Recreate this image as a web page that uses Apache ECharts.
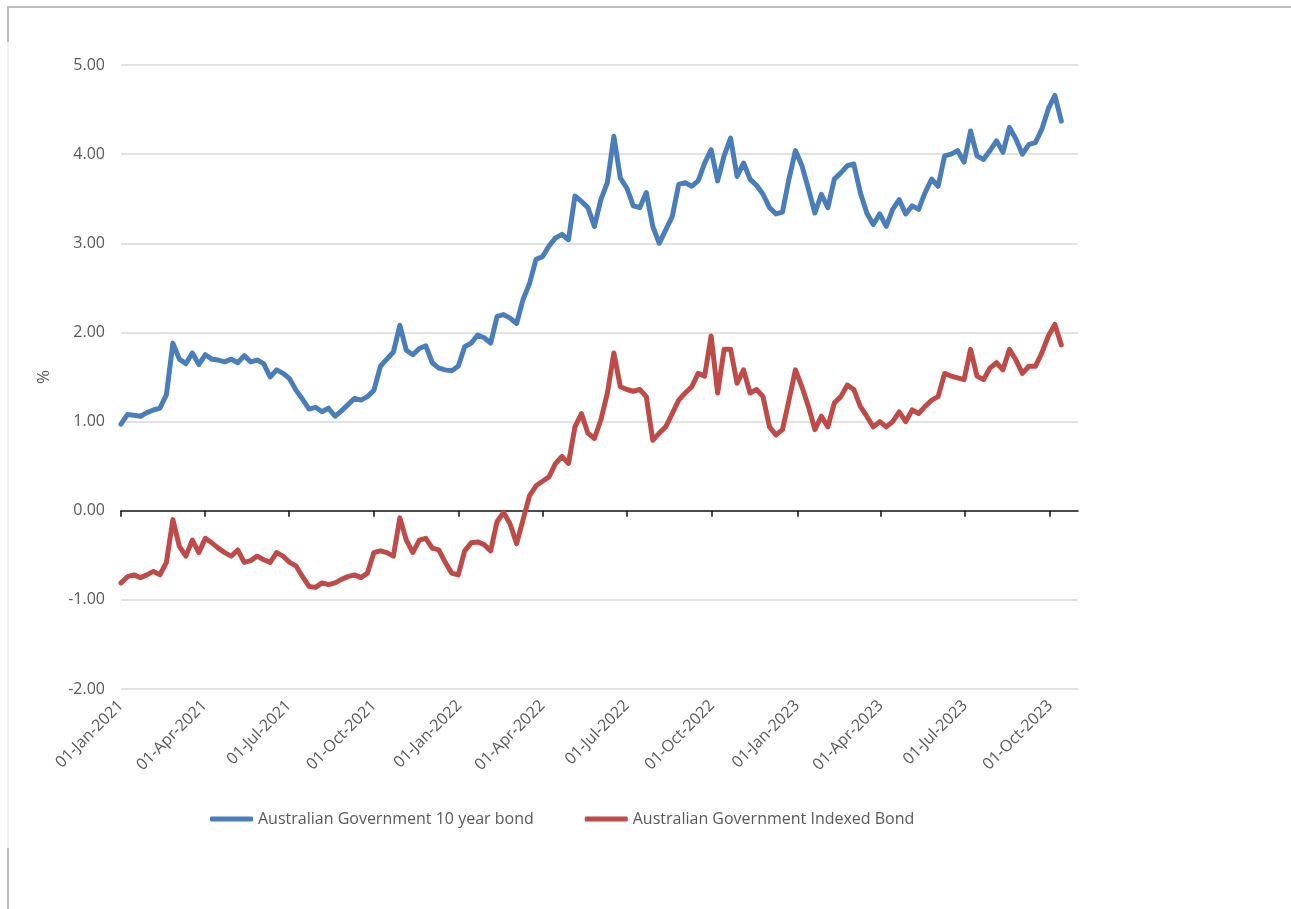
<!DOCTYPE html>
<html>
<head>
<meta charset="utf-8">
<script src="https://cdn.jsdelivr.net/npm/echarts@6/dist/echarts.min.js"></script>
<style>
  html, body { margin: 0; padding: 0; background: #ffffff; }
  #chart { width: 1291px; height: 909px; }
</style>
</head>
<body>
<div id="chart"></div>
<script>
// Weekly observation dates (Fridays)
const dates = [
  '2021-01-01','2021-01-08','2021-01-15','2021-01-22','2021-01-29',
  '2021-02-05','2021-02-12','2021-02-19','2021-02-26',
  '2021-03-05','2021-03-12','2021-03-19','2021-03-26',
  '2021-04-02','2021-04-09','2021-04-16','2021-04-23','2021-04-30',
  '2021-05-07','2021-05-14','2021-05-21','2021-05-28',
  '2021-06-04','2021-06-11','2021-06-18','2021-06-25',
  '2021-07-02','2021-07-09','2021-07-16','2021-07-23','2021-07-30',
  '2021-08-06','2021-08-13','2021-08-20','2021-08-27',
  '2021-09-03','2021-09-10','2021-09-17','2021-09-24',
  '2021-10-01','2021-10-08','2021-10-15','2021-10-22','2021-10-29',
  '2021-11-05','2021-11-12','2021-11-19','2021-11-26',
  '2021-12-03','2021-12-10','2021-12-17','2021-12-24','2021-12-31',
  '2022-01-07','2022-01-14','2022-01-21','2022-01-28',
  '2022-02-04','2022-02-11','2022-02-18','2022-02-25',
  '2022-03-04','2022-03-11','2022-03-18','2022-03-25',
  '2022-04-01','2022-04-08','2022-04-15','2022-04-22','2022-04-29',
  '2022-05-06','2022-05-13','2022-05-20','2022-05-27',
  '2022-06-03','2022-06-10','2022-06-17','2022-06-24',
  '2022-07-01','2022-07-08','2022-07-15','2022-07-22','2022-07-29',
  '2022-08-05','2022-08-12','2022-08-19','2022-08-26',
  '2022-09-02','2022-09-09','2022-09-16','2022-09-23','2022-09-30',
  '2022-10-07','2022-10-14','2022-10-21','2022-10-28',
  '2022-11-04','2022-11-11','2022-11-18','2022-11-25',
  '2022-12-02','2022-12-09','2022-12-16','2022-12-23','2022-12-30',
  '2023-01-06','2023-01-13','2023-01-20','2023-01-27',
  '2023-02-03','2023-02-10','2023-02-17','2023-02-24',
  '2023-03-03','2023-03-10','2023-03-17','2023-03-24','2023-03-31',
  '2023-04-07','2023-04-14','2023-04-21','2023-04-28',
  '2023-05-05','2023-05-12','2023-05-19','2023-05-26',
  '2023-06-02','2023-06-09','2023-06-16','2023-06-23','2023-06-30',
  '2023-07-07','2023-07-14','2023-07-21','2023-07-28',
  '2023-08-04','2023-08-11','2023-08-18','2023-08-25',
  '2023-09-01','2023-09-08','2023-09-15','2023-09-22','2023-09-29',
  '2023-10-06','2023-10-13'
];

// Australian Government 10 year bond yield, %
const tenYearBond = [
  0.97, 1.08, 1.07, 1.06, 1.10,
  1.13, 1.15, 1.30, 1.88,
  1.70, 1.65, 1.77, 1.64,
  1.75, 1.70, 1.69, 1.67, 1.70,
  1.66, 1.74, 1.67, 1.69,
  1.65, 1.50, 1.58, 1.54,
  1.48, 1.35, 1.25, 1.14, 1.16,
  1.11, 1.15, 1.06, 1.12,
  1.19, 1.26, 1.24, 1.28,
  1.35, 1.62, 1.70, 1.78, 2.08,
  1.80, 1.75, 1.82, 1.85,
  1.66, 1.60, 1.58, 1.57, 1.62,
  1.84, 1.88, 1.97, 1.94,
  1.88, 2.18, 2.20, 2.16,
  2.10, 2.37, 2.55, 2.82,
  2.85, 2.97, 3.06, 3.10, 3.04,
  3.53, 3.47, 3.40, 3.19,
  3.49, 3.68, 4.20, 3.73,
  3.62, 3.42, 3.40, 3.57, 3.19,
  3.00, 3.15, 3.30, 3.66,
  3.68, 3.64, 3.70, 3.90, 4.05,
  3.70, 3.98, 4.18, 3.75,
  3.90, 3.72, 3.65, 3.55,
  3.40, 3.33, 3.35, 3.72, 4.04,
  3.87, 3.61, 3.34, 3.55,
  3.40, 3.72, 3.79, 3.87,
  3.89, 3.57, 3.34, 3.21, 3.33,
  3.19, 3.38, 3.49, 3.33,
  3.42, 3.38, 3.57, 3.72,
  3.64, 3.98, 4.00, 4.04, 3.91,
  4.26, 3.98, 3.94, 4.04,
  4.15, 4.02, 4.30, 4.17,
  4.00, 4.11, 4.13, 4.28, 4.51,
  4.66, 4.37
];

// Australian Government Indexed Bond (real) yield, %
const indexedBond = [
  -0.81, -0.74, -0.72, -0.75, -0.72,
  -0.68, -0.72, -0.58, -0.10,
  -0.40, -0.51, -0.33, -0.47,
  -0.31, -0.36, -0.42, -0.47, -0.51,
  -0.44, -0.58, -0.56, -0.51,
  -0.55, -0.58, -0.47, -0.51,
  -0.58, -0.62, -0.74, -0.85, -0.86,
  -0.81, -0.83, -0.81, -0.77,
  -0.74, -0.72, -0.75, -0.70,
  -0.47, -0.45, -0.47, -0.51, -0.08,
  -0.33, -0.47, -0.33, -0.31,
  -0.42, -0.44, -0.58, -0.70, -0.72,
  -0.45, -0.36, -0.35, -0.38,
  -0.45, -0.12, -0.02, -0.15,
  -0.37, -0.10, 0.17, 0.28,
  0.33, 0.38, 0.53, 0.61, 0.53,
  0.94, 1.09, 0.87, 0.81,
  1.02, 1.32, 1.77, 1.39,
  1.36, 1.34, 1.36, 1.28, 0.79,
  0.87, 0.94, 1.09, 1.24,
  1.32, 1.39, 1.54, 1.51, 1.96,
  1.32, 1.81, 1.81, 1.43,
  1.58, 1.32, 1.36, 1.28,
  0.94, 0.85, 0.91, 1.24, 1.58,
  1.39, 1.17, 0.91, 1.06,
  0.94, 1.21, 1.28, 1.41,
  1.36, 1.17, 1.06, 0.94, 1.00,
  0.94, 1.00, 1.11, 1.00,
  1.13, 1.09, 1.17, 1.24,
  1.28, 1.54, 1.51, 1.49, 1.47,
  1.81, 1.51, 1.47, 1.60,
  1.66, 1.58, 1.81, 1.69,
  1.54, 1.62, 1.62, 1.77, 1.96,
  2.09, 1.86
];

// Quarterly date ticks and their labels
const tickDates = [
  '2021-01-01','2021-04-01','2021-07-01','2021-10-01',
  '2022-01-01','2022-04-01','2022-07-01','2022-10-01',
  '2023-01-01','2023-04-01','2023-07-01','2023-10-01'
];
const tickLabels = [
  '01-Jan-2021','01-Apr-2021','01-Jul-2021','01-Oct-2021',
  '01-Jan-2022','01-Apr-2022','01-Jul-2022','01-Oct-2022',
  '01-Jan-2023','01-Apr-2023','01-Jul-2023','01-Oct-2023'
];

const seriesNames = ['Australian Government 10 year bond', 'Australian Government Indexed Bond'];
const axisStart = '2021-01-01';
const axisEnd = '2023-10-31';

// Dates are placed on a numeric axis in UTC milliseconds
function toTime(s) {
  const p = s.split('-').map(Number);
  return Date.UTC(p[0], p[1] - 1, p[2]);
}

const tickTimes = tickDates.map(toTime);
const labelByTime = {};
tickTimes.forEach((t, i) => { labelByTime[t] = tickLabels[i]; });

const FONT = '"Open Sans", "Noto Sans", sans-serif';
const TEXT = '#595959';

const chart = echarts.init(document.getElementById('chart'), null, { renderer: 'canvas' });

const xRange = { min: toTime(axisStart), max: toTime(axisEnd) };

chart.setOption({
  animation: false,
  backgroundColor: '#ffffff',
  textStyle: { fontFamily: FONT },
  grid: { left: 121, right: 213, top: 65, bottom: 220, containLabel: false },
  legend: {
    left: 205,
    top: 806,
    itemWidth: 43,
    itemHeight: 5,
    itemGap: 51,
    icon: 'roundRect',
    textStyle: { color: TEXT, fontSize: 16, fontFamily: FONT },
    data: seriesNames
  },
  xAxis: [
    {
      type: 'value',
      min: xRange.min,
      max: xRange.max,
      axisLine: { show: true, onZero: true, lineStyle: { color: '#1a1a1a', width: 1.6 } },
      axisTick: { show: true, customValues: tickTimes, length: 6, lineStyle: { color: '#1a1a1a', width: 1.6 } },
      axisLabel: { show: false },
      splitLine: { show: false }
    },
    {
      type: 'value',
      position: 'bottom',
      min: xRange.min,
      max: xRange.max,
      axisLine: { show: false, onZero: false },
      axisTick: { show: false },
      splitLine: { show: false },
      axisLabel: {
        show: true,
        customValues: tickTimes,
        rotate: 45,
        margin: 14,
        color: TEXT,
        fontSize: 16,
        fontFamily: FONT,
        formatter: v => labelByTime[v] || ''
      }
    }
  ],
  yAxis: {
    type: 'value',
    min: -2,
    max: 5,
    interval: 1,
    name: '%',
    nameLocation: 'middle',
    nameGap: 68,
    nameTextStyle: { color: TEXT, fontSize: 17, fontFamily: FONT },
    axisLine: { show: false },
    axisTick: { show: false },
    axisLabel: {
      color: TEXT,
      fontSize: 16,
      fontFamily: FONT,
      margin: 16,
      formatter: v => v.toFixed(2)
    },
    splitLine: { show: true, lineStyle: { color: '#d9d9d9', width: 1.5 } }
  },
  series: [
    {
      name: seriesNames[0],
      type: 'line',
      xAxisIndex: 0,
      showSymbol: false,
      symbol: 'none',
      color: '#4a7ebb',
      lineStyle: { color: '#4a7ebb', width: 5, join: 'round', cap: 'round' },
      data: dates.map((d, i) => [toTime(d), tenYearBond[i]])
    },
    {
      name: seriesNames[1],
      type: 'line',
      xAxisIndex: 0,
      showSymbol: false,
      symbol: 'none',
      color: '#be4b48',
      lineStyle: { color: '#be4b48', width: 5, join: 'round', cap: 'round' },
      data: dates.map((d, i) => [toTime(d), indexedBond[i]])
    }
  ],
  graphic: [
    { type: 'line', shape: { x1: 7, y1: 7, x2: 1291, y2: 7 }, style: { stroke: '#bdbdbd', lineWidth: 2 } },
    { type: 'line', shape: { x1: 8, y1: 7, x2: 8, y2: 42 }, style: { stroke: '#bdbdbd', lineWidth: 2 } },
    { type: 'line', shape: { x1: 8, y1: 42, x2: 8, y2: 848 }, style: { stroke: '#e6e6e6', lineWidth: 1 } },
    { type: 'line', shape: { x1: 8, y1: 848, x2: 8, y2: 909 }, style: { stroke: '#bdbdbd', lineWidth: 2 } }
  ]
});
</script>
</body>
</html>
